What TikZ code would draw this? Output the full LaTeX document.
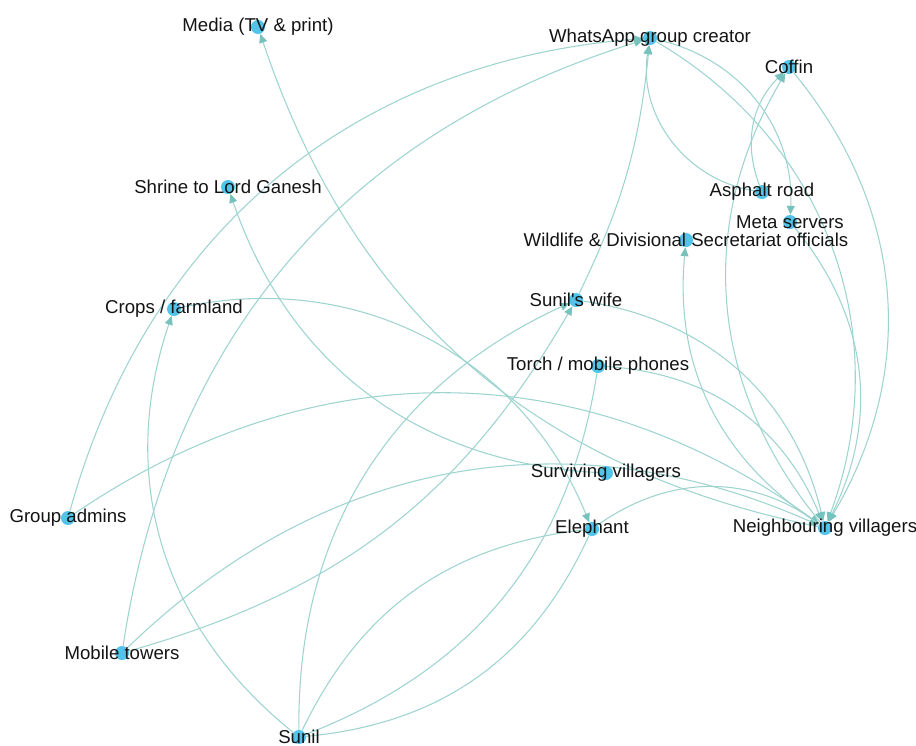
\documentclass[tikz,border=0pt]{standalone}
\usepackage{fontspec}
\setmainfont{Liberation Sans}
\usetikzlibrary{arrows.meta}
\pgfdeclarelayer{bg}
\pgfsetlayers{bg,main}
\definecolor{edgec}{RGB}{158,212,208}
\definecolor{arrc}{RGB}{118,194,188}
\definecolor{dotc}{RGB}{82,196,233}
\begin{document}
\begin{tikzpicture}[x=0.02cm,y=-0.02cm,
  dot/.style={circle,fill=dotc,inner sep=0pt,minimum size=0.28cm},
  lbl/.style={font=\fontsize{10.6}{12}\selectfont,text=black!92,inner sep=0pt},
  e/.style={draw=edgec,line width=0.6pt},
  ea/.style={e,-{Triangle[length=5pt,width=4.5pt,color=arrc]}}]
\useasboundingbox (0,0) rectangle (916,745);
% nodes
\node[dot] (me) at (258,27) {};
\node[dot] (wa) at (650,38) {};
\node[dot] (co) at (789,67) {};
\node[dot] (sh) at (228,187) {};
\node[dot] (as) at (762,192) {};
\node[dot] (ms) at (790,222) {};
\node[dot] (wo) at (686,240) {};
\node[dot] (cr) at (174,309) {};
\node[dot] (sw) at (576,300) {};
\node[dot] (to) at (598,366) {};
\node[dot] (sv) at (606,473) {};
\node[dot] (ga) at (68,518) {};
\node[dot] (el) at (592,529) {};
\node[dot] (nv) at (825,528) {};
\node[dot] (mt) at (122,653) {};
\node[dot] (su) at (299,737) {};
% edges
\begin{pgfonlayer}{bg}
\fill[white] (0,0) rectangle (916,745);
\draw[ea] (ga) to[bend left=35] (wa);
\draw[ea] (ga) to[bend left=35] (nv);
\draw[ea] (mt) to[bend left=32] (wa);
\draw[ea] (mt) to[bend right=22] (sw);
\draw[ea] (mt) to[bend left=34] (nv);
\draw[ea] (su) to[bend left=35] (cr);
\draw[ea] (su) to[bend left=33] (sw);
\draw[e] (su) to[bend left=29] (el);
\draw[e] (el) to[bend left=30] (su);
\draw[e] (to) to[bend left=30] (su);
\draw[ea] (cr) to[bend left=40] (el);
\draw[ea] (sv) to[bend left=34] (sh);
\draw[ea] (nv) to[bend left=30] (me);
\draw[ea] (wa) to[bend left=40] (ms);
\draw[ea] (wa) to[bend left=40] (nv);
\draw[ea] (as) to[bend left=33] (co);
\draw[ea] (nv) to[bend left=35] (co);
\draw[ea] (co) to[bend left=35] (nv);
\draw[ea] (ms) to[bend left=33] (nv);
\draw[ea] (sw) to[bend left=34] (nv);
\draw[ea] (to) to[bend left=32] (nv);
\draw[ea] (el) to[bend left=35] (nv);
\draw[ea] (nv) to[bend left=31] (wo);
\draw[ea] (sw) to[bend right=10] (wa);
\draw[ea] (as) to[bend left=45] (wa);
\end{pgfonlayer}
% labels
\node[lbl] (me-l) at (me) {Media (TV \& print)};
\node[lbl] (wa-l) at (wa) {WhatsApp group creator};
\node[lbl] (co-l) at (co) {Coffin};
\node[lbl] (sh-l) at (sh) {Shrine to Lord Ganesh};
\node[lbl] (as-l) at (as) {Asphalt road};
\node[lbl] (ms-l) at (ms) {Meta servers};
\node[lbl] (wo-l) at (wo) {Wildlife \& Divisional Secretariat officials};
\node[lbl] (cr-l) at (cr) {Crops / farmland};
\node[lbl] (sw-l) at (sw) {Sunil\textquotesingle s wife};
\node[lbl] (to-l) at (to) {Torch / mobile phones};
\node[lbl] (sv-l) at (sv) {Surviving villagers};
\node[lbl] (ga-l) at (ga) {Group admins};
\node[lbl] (el-l) at (el) {Elephant};
\node[lbl] (nv-l) at (nv) {Neighbouring villagers};
\node[lbl] (mt-l) at (mt) {Mobile towers};
\node[lbl] (su-l) at (su) {Sunil};
\end{tikzpicture}
\end{document}
